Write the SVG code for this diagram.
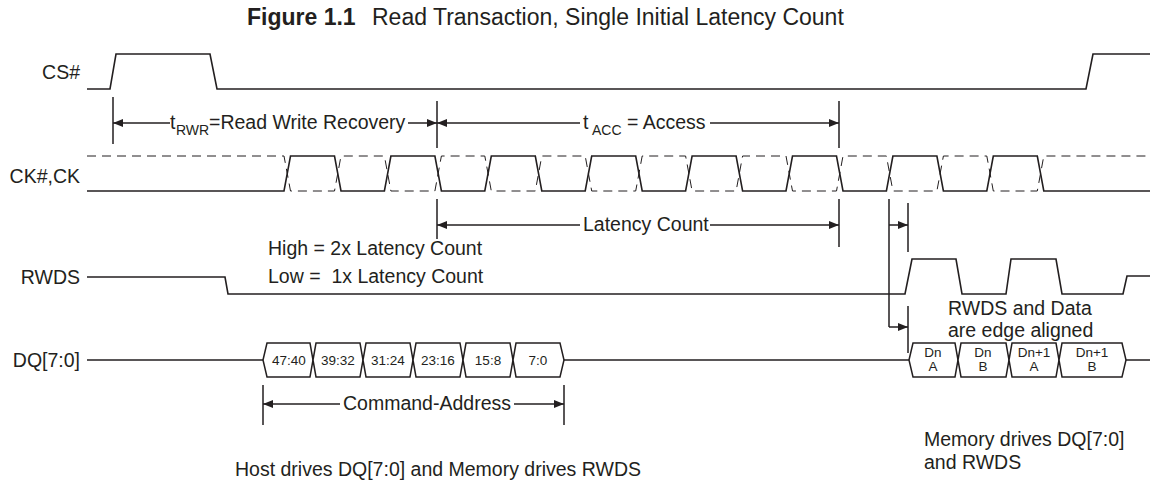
<svg xmlns="http://www.w3.org/2000/svg" width="1150" height="486" viewBox="0 0 1150 486">
<defs>
<style>
.w{fill:none;stroke:#231f20;stroke-width:1.6;stroke-linejoin:miter}
.d{fill:none;stroke:#231f20;stroke-width:1;stroke-dasharray:9 6}
.a{fill:none;stroke:#231f20;stroke-width:1.5}
.t{font-family:"Liberation Sans",Arial,sans-serif;font-size:19.5px;fill:#231f20}
.s{font-family:"Liberation Sans",Arial,sans-serif;font-size:14px;fill:#231f20}
.b{font-family:"Liberation Sans",Arial,sans-serif;font-size:13.5px;fill:#231f20;text-anchor:middle}
.bx{fill:#fff;stroke:#231f20;stroke-width:1.5}
</style>
<marker id="ah" viewBox="0 0 10 8" refX="10" refY="4" markerWidth="10" markerHeight="8" markerUnits="userSpaceOnUse" orient="auto"><path d="M0,0 L10,4 L0,8 Z" fill="#231f20"/></marker>
</defs>
<rect width="1150" height="486" fill="#fff"/>

<g id="title">
<text x="247" y="25" font-family="Liberation Sans,Arial,sans-serif" font-size="23" fill="#231f20"><tspan font-weight="bold">Figure 1.1</tspan><tspan x="372">Read Transaction, Single Initial Latency Count</tspan></text>
</g>

<g id="labels">
<text class="t" x="80" y="79" text-anchor="end">CS#</text>
<text class="t" x="80" y="183" text-anchor="end">CK#,CK</text>
<text class="t" x="80" y="284" text-anchor="end">RWDS</text>
<text class="t" x="80" y="367" text-anchor="end">DQ[7:0]</text>
</g>

<g id="cs">
<path class="w" d="M87,89 L110,89 L116,54 L210,54 L217,89 L1086,89 L1093,54 L1150,54"/>
</g>

<g id="ck">
<path class="d" d="M87,156 L284,156 L290.5,191 L334.5,191 L341,156 L384.4,156 L390.9,191 L434.9,191 L441.4,156 L484.8,156 L491.3,191 L535.3,191 L541.8,156 L585.2,156 L591.7,191 L635.7,191 L642.2,156 L685.6,156 L692.1,191 L736.1,191 L742.6,156 L786,156 L792.5,191 L836.5,191 L843,156 L886.4,156 L892.9,191 L936.9,191 L943.4,156 L986.8,156 L993.3,191 L1037.3,191 L1043.8,156 L1150,156"/>
<path class="w" d="M87,191 L284,191 L290.5,156 L334.5,156 L341,191 L384.4,191 L390.9,156 L434.9,156 L441.4,191 L484.8,191 L491.3,156 L535.3,156 L541.8,191 L585.2,191 L591.7,156 L635.7,156 L642.2,191 L685.6,191 L692.1,156 L736.1,156 L742.6,191 L786,191 L792.5,156 L836.5,156 L843,191 L886.4,191 L892.9,156 L936.9,156 L943.4,191 L986.8,191 L993.3,156 L1037.3,156 L1043.8,191 L1150,191"/>
</g>

<g id="rwds">
<path class="w" d="M87,277 L225,277 L228,294 L905,294 L912,259 L956,259 L962,294 L1006,294 L1011,259 L1056,259 L1062,294 L1123,294 L1127,276 L1150,276"/>
<text class="t" x="268" y="255">High = 2x Latency Count</text>
<text class="t" x="268" y="283" xml:space="preserve">Low =  1x Latency Count</text>
</g>

<g id="dq">
<path class="w" d="M87,360 L263,360 M564,360 L909,360 M1126,360 L1150,360"/>
<path class="bx" d="M263,360 L267,343 L310,343 L313,360 L310,377 L267,377 Z"/>
<path class="bx" d="M313,360 L316,343 L360,343 L363,360 L360,377 L316,377 Z"/>
<path class="bx" d="M363,360 L366,343 L410,343 L413,360 L410,377 L366,377 Z"/>
<path class="bx" d="M413,360 L416,343 L460,343 L463,360 L460,377 L416,377 Z"/>
<path class="bx" d="M463,360 L466,343 L510,343 L513,360 L510,377 L466,377 Z"/>
<path class="bx" d="M513,360 L516,343 L560,343 L564,360 L560,377 L516,377 Z"/>
<text class="b" x="289" y="365">47:40</text>
<text class="b" x="338" y="365">39:32</text>
<text class="b" x="388" y="365">31:24</text>
<text class="b" x="438" y="365">23:16</text>
<text class="b" x="488" y="365">15:8</text>
<text class="b" x="538" y="365">7:0</text>
<path class="bx" d="M909,360 L913,343 L955,343 L958,360 L955,377 L913,377 Z"/>
<path class="bx" d="M958,360 L961,343 L1006,343 L1009,360 L1006,377 L961,377 Z"/>
<path class="bx" d="M1009,360 L1012,343 L1056,343 L1059,360 L1056,377 L1012,377 Z"/>
<path class="bx" d="M1059,360 L1062,343 L1122,343 L1126,360 L1122,377 L1062,377 Z"/>
<text class="b" x="933" y="357">Dn<tspan x="933" dy="14">A</tspan></text>
<text class="b" x="983" y="357">Dn<tspan x="983" dy="14">B</tspan></text>
<text class="b" x="1034" y="357">Dn+1<tspan x="1034" dy="14">A</tspan></text>
<text class="b" x="1092" y="357">Dn+1<tspan x="1092" dy="14">B</tspan></text>
</g>

<g id="connectors">
<path class="a" d="M113,97 L113,144 M437,101 L437,148 M839,101 L839,148"/>
<path class="a" d="M170,123 L113,123" marker-end="url(#ah)"/>
<path class="a" d="M408,123 L437,123" marker-end="url(#ah)"/>
<path class="a" d="M580,123 L437,123" marker-end="url(#ah)"/>
<path class="a" d="M710,123 L839,123" marker-end="url(#ah)"/>
<path class="a" d="M437,199 L437,239 M839,199 L839,247"/>
<path class="a" d="M580,225 L437,225" marker-end="url(#ah)"/>
<path class="a" d="M710,225 L839,225" marker-end="url(#ah)"/>
<path class="a" d="M889,199 L889,327 M908,203 L908,252 M908,306 L908,353"/>
<path class="a" d="M889,225 L908,225" marker-end="url(#ah)"/>
<path class="a" d="M889,327 L908,327" marker-end="url(#ah)"/>
<path class="a" d="M263,385 L263,425 M564,385 L564,425"/>
<path class="a" d="M340,404 L263,404" marker-end="url(#ah)"/>
<path class="a" d="M514,404 L564,404" marker-end="url(#ah)"/>
</g>

<g id="annotations">
<text class="t" x="170" y="129">t<tspan class="s" x="176" y="135">RWR</tspan><tspan x="209" y="129">=Read Write Recovery</tspan></text>
<text class="t" x="583" y="129">t<tspan class="s" x="592" y="135">ACC</tspan><tspan x="627" y="129">= Access</tspan></text>
<text class="t" x="583" y="231">Latency Count</text>
<text class="t" x="343" y="410">Command-Address</text>
<text class="t" x="948" y="315">RWDS and Data</text>
<text class="t" x="948" y="337">are edge aligned</text>
<text class="t" x="235" y="476">Host drives DQ[7:0] and Memory drives RWDS</text>
<text class="t" x="924" y="446">Memory drives DQ[7:0]</text>
<text class="t" x="924" y="469">and RWDS</text>
</g>
</svg>
